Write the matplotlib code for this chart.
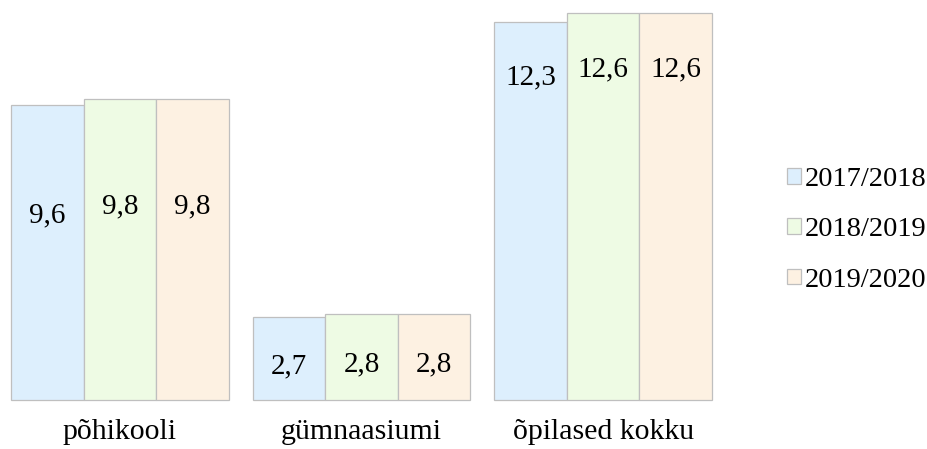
import numpy as np
import matplotlib.pyplot as plt

# data
categories = ["põhikooli", "gümnaasiumi", "õpilased kokku"]
years = ["2017/2018", "2018/2019", "2019/2020"]
values = [
    [9.6, 2.7, 12.3],   # 2017/2018
    [9.8, 2.8, 12.6],   # 2018/2019
    [9.8, 2.8, 12.6],   # 2019/2020
]
labels = [
    ["9,6", "2,7", "12,3"],
    ["9,8", "2,8", "12,6"],
    ["9,8", "2,8", "12,6"],
]
# height (in data units) where the value label sits inside each bar
label_y = [
    [6.0, 1.1, 10.5],
    [6.3, 1.17, 10.75],
    [6.3, 1.17, 10.75],
]
colors = ["#ddeffd", "#eefbe4", "#fdf1e2"]

plt.rcParams["font.family"] = ["Liberation Serif", "DejaVu Serif"]
fs = 21

fig = plt.figure(figsize=(9.28, 4.49), dpi=100)
W, H = 928, 449
ax = fig.add_axes([11 / W, (H - 400) / H, (712 - 11) / W, 387 / H])

x = np.arange(len(categories))
width = 0.3
for i, year in enumerate(years):
    pos = x + (i - 1) * width
    ax.bar(pos, values[i], width, color=colors[i], edgecolor="#bfbfbf",
           linewidth=0.9, label=year, clip_on=False)
    for j in range(len(categories)):
        ax.text(pos[j], label_y[i][j], labels[i][j], ha="center", va="center",
                fontsize=fs)

ax.set_xlim(-0.45, 2.45)
ax.set_ylim(0, 12.6)
ax.set_xticks(x)
ax.set_xticklabels(categories, fontsize=21.5)
ax.tick_params(axis="x", length=0, pad=14)
ax.set_yticks([])
for s in ax.spines.values():
    s.set_visible(False)

fig.legend(loc="center left", bbox_to_anchor=(787 / W, (H - 230) / H),
           frameon=False, fontsize=20.5, handlelength=0.48, handleheight=0.48,
           handletextpad=0.14, labelspacing=0.88, borderpad=0, borderaxespad=0)

fig.savefig("out.png", dpi=100)
